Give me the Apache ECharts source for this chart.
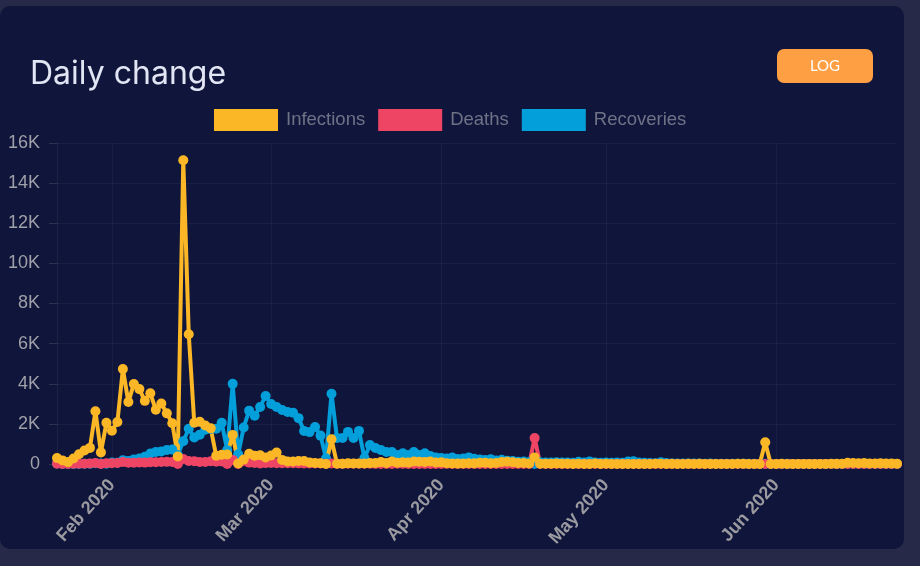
<!DOCTYPE html>
<html>
<head>
<meta charset="utf-8">
<script src="https://cdn.jsdelivr.net/npm/echarts@6/dist/echarts.min.js"></script>
<style>
html,body{margin:0;padding:0;width:920px;height:566px;background:#262a48;overflow:hidden;}
#card{position:absolute;left:0;top:6px;width:904px;height:543px;border-radius:10px;background:#10163b;}
#chart{position:absolute;left:0;top:0;width:920px;height:566px;}
</style>
</head>
<body>
<div id="card"></div>
<div id="chart"></div>
<script>
// ---- data ----
const START_DATE = '2020-01-22';
const MONTH_NAMES = ['Jan','Feb','Mar','Apr','May','Jun','Jul','Aug','Sep','Oct','Nov','Dec'];
const Y_TICKS = [0, 2000, 4000, 6000, 8000, 10000, 12000, 14000, 16000];

const infections = [
  300,180,95,277,486,669,802,2632,578,2054,
  1661,2089,4739,3086,3991,3733,3147,3523,2704,3015,
  2525,2032,373,15136,6463,2055,2100,1921,1777,408,
  458,473,1451,21,219,513,412,434,328,428,
  576,204,125,125,151,153,80,53,37,0,
  1230,11,13,32,26,30,25,44,54,94,
  55,130,63,93,70,121,115,102,123,76,
  81,35,31,19,30,39,32,62,63,42,
  46,99,108,89,46,46,26,330,16,12,
  11,30,10,10,6,12,3,6,22,4,
  12,1,2,3,1,2,2,4,1,14,
  17,1,7,3,4,8,5,7,6,6,
  2,4,0,3,11,7,1,1,2,1080,
  4,2,16,1,4,5,6,5,4,3,
  3,11,7,11,57,49,40,44,28,25,
  32,26,22,18
];

const deaths = [
  17,1,1,8,16,14,26,49,2,38,
  42,46,102,64,65,72,70,85,87,100,
  107,100,5,252,152,142,103,98,139,112,
  122,0,205,2,150,70,52,29,44,47,
  35,42,33,36,32,29,28,27,23,16,
  22,11,7,13,10,14,13,11,8,4,
  6,6,9,7,4,6,5,3,5,4,
  1,7,6,4,4,4,1,2,2,1,
  3,1,3,0,2,1,0,1290,0,0,
  0,0,0,0,0,0,0,0,0,0,
  0,0,0,0,0,0,0,0,0,0,
  0,0,0,0,0,0,0,0,0,0,
  0,0,0,0,0,0,0,0,0,0,
  0,0,0,0,0,0,0,0,0,0,
  0,0,0,0,0,0,0,0,0,0,
  0,0,0,0
];

const recoveries = [
  28,2,2,6,3,10,9,43,19,15,
  79,61,188,151,229,272,361,522,597,623,
  699,718,444,1134,1760,1321,1454,1707,1744,1753,
  2050,691,3994,483,1820,2660,2403,2845,3393,2988,
  2839,2692,2594,2551,2285,1648,1590,1842,1415,290,
  3500,1300,1300,1600,1300,1650,300,950,800,700,
  600,600,450,530,450,600,450,530,400,330,
  300,280,320,250,270,330,260,230,200,240,
  180,210,160,150,110,120,100,0,90,80,
  70,90,80,70,60,110,70,130,70,60,
  80,60,70,60,120,140,80,60,50,40,
  90,50,30,25,30,20,25,20,15,20,
  15,10,15,10,12,10,8,10,6,8,
  5,6,5,8,4,5,6,4,5,3,
  4,5,3,4,6,5,4,3,5,4,
  3,4,5,3
];

// categories: consecutive days from START_DATE, one per value
const categories = [];
(function(){
  const d0 = new Date(START_DATE + 'T00:00:00Z');
  for (let i = 0; i < infections.length; i++) {
    const d = new Date(d0.getTime() + i * 86400000);
    categories.push(d.toISOString().slice(0,10));
  }
})();

const isMonthStart = (idx, val) => val.slice(8) === '01';

const chart = echarts.init(document.getElementById('chart'), null, {renderer:'canvas'});
const lineSeries = (name, data, color) => ({
  name, type:'line', data,
  symbol:'circle', symbolSize:10, showAllSymbol:true,
  lineStyle:{width:4, color},
  itemStyle:{color},
  emphasis:{disabled:true},
  animation:false
});

chart.setOption({
  backgroundColor:'transparent',
  animation:false,
  title:{
    text:'Daily change', left:25, top:53,
    textStyle:{color:'#e2e5f4', fontSize:32, fontWeight:400, fontFamily:'Inter'}
  },
  legend:{
    data:['Infections','Deaths','Recoveries'],
    left:209, top:104, icon:'rect', itemWidth:64, itemHeight:22, itemGap:13,
    textStyle:{color:'#6f7286', fontSize:18.5, fontFamily:'Liberation Sans', padding:[0,0,0,3]},
    selectedMode:false
  },
  graphic:[
    {type:'rect', shape:{x:777, y:49, width:96, height:34, r:7}, style:{fill:'#ff9f43'}},
    {type:'text', x:825, y:66, style:{text:'LOG', fill:'#ffffff', font:'15px Lato', align:'center', verticalAlign:'middle'}}
  ],
  grid:{left:57, right:23, top:143, bottom:102, containLabel:false},
  xAxis:{
    type:'category', data:categories, boundaryGap:false,
    axisLine:{show:false},
    axisTick:{show:false},
    axisLabel:{
      interval:isMonthStart, rotate:48, margin:18,
      color:'#9a9aa0', fontSize:18, fontWeight:'bold', fontFamily:'Liberation Sans',
      formatter:v => MONTH_NAMES[+v.slice(5,7)-1] + ' ' + v.slice(0,4)
    },
    splitLine:{show:true, interval:isMonthStart, lineStyle:{color:'rgba(255,255,255,0.045)', width:1}}
  },
  yAxis:{
    type:'value', min:Y_TICKS[0], max:Y_TICKS[Y_TICKS.length-1], interval:Y_TICKS[1]-Y_TICKS[0],
    axisLine:{show:true, lineStyle:{color:'rgba(255,255,255,0.06)'}},
    axisTick:{show:true, length:8, lineStyle:{color:'rgba(255,255,255,0.12)'}},
    axisLabel:{
      color:'#a0a0a8', fontSize:18, fontFamily:'Liberation Sans', margin:17,
      formatter:v => v === 0 ? '0' : (v/1000) + 'K'
    },
    splitLine:{show:true, lineStyle:{color:'rgba(255,255,255,0.045)', width:1}}
  },
  series:[
    lineSeries('Recoveries', recoveries, '#039fdb'),
    lineSeries('Deaths', deaths, '#ef4565'),
    lineSeries('Infections', infections, '#fbb726')
  ]
});
</script>
</body>
</html>
